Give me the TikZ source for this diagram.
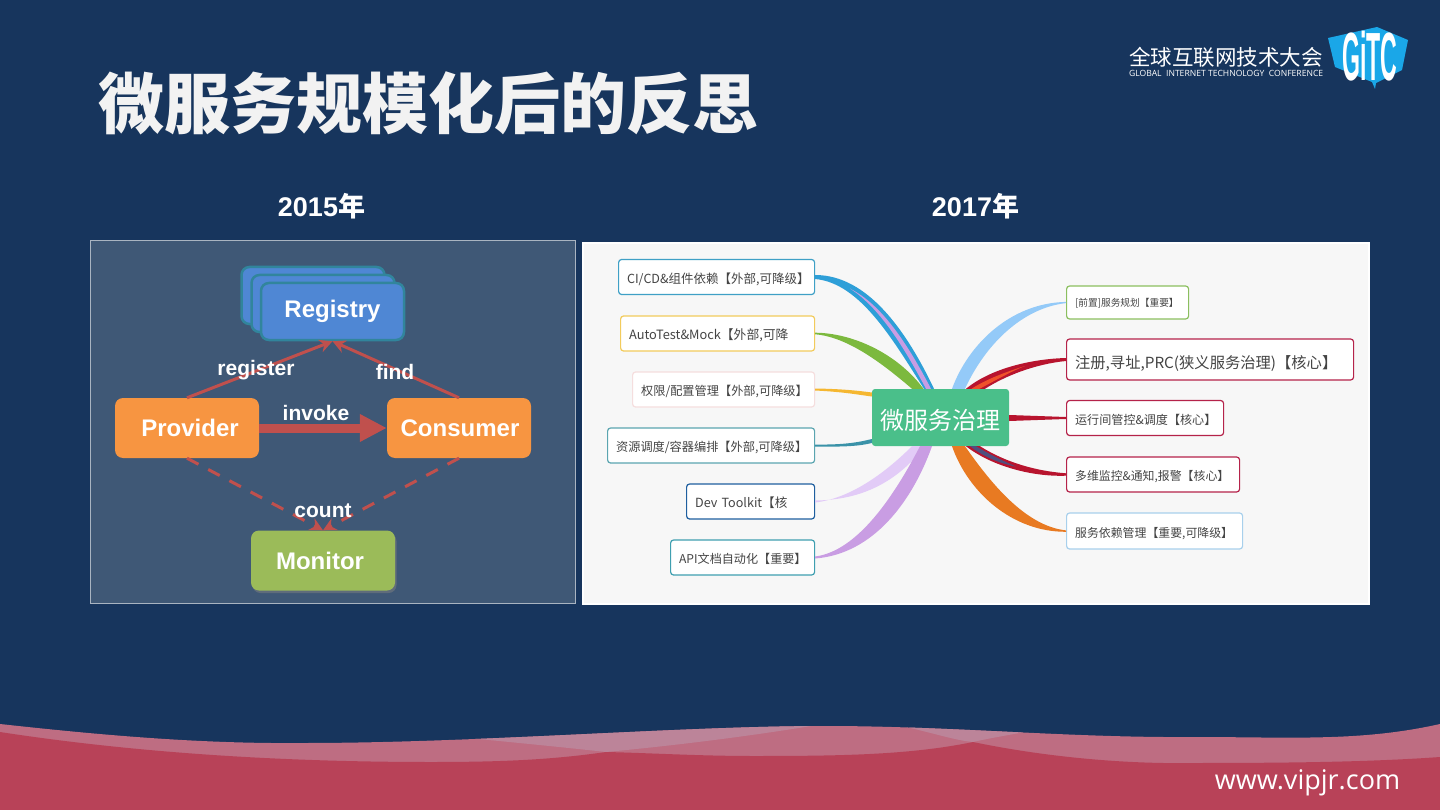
\documentclass[tikz,border=0pt]{standalone}
\usepackage{fontspec}
\usepackage{graphicx}
\usetikzlibrary{arrows.meta,calc,shadows}
\setmainfont{Liberation Sans}
\newfontfamily\cjk{Noto Sans CJK SC}
\newfontfamily\opensans{Open Sans}
\definecolor{navy}{HTML}{17355D}
\definecolor{wavemid}{HTML}{BE6D82}
\definecolor{wavelight}{HTML}{BC8499}
\definecolor{wavered}{HTML}{B84258}
\definecolor{panelL}{HTML}{3F5876}
\definecolor{panelR}{HTML}{F7F7F7}
\definecolor{arrowred}{HTML}{C0504D}
\definecolor{regfill}{HTML}{4F87D4}
\definecolor{regline}{HTML}{31859C}
\definecolor{orangebox}{HTML}{F79541}
\definecolor{greenbox}{HTML}{9BBB59}
\definecolor{mmtxt}{HTML}{444444}
\definecolor{crimson}{HTML}{B8142E}
\definecolor{mmgreen}{HTML}{4ABF8A}
\definecolor{logoblue}{HTML}{1AA7E8}
\definecolor{bdA}{HTML}{3FA0C6}
\definecolor{bdB}{HTML}{F2CB5C}
\definecolor{bdC}{HTML}{F5DEDE}
\definecolor{bdD}{HTML}{5BA5B0}
\definecolor{bdE}{HTML}{1F5F9F}
\definecolor{bdF}{HTML}{3F9FB0}
\definecolor{bdG}{HTML}{8BBF5F}
\definecolor{bdH}{HTML}{B5234A}
\definecolor{bdI}{HTML}{A8D0EC}
\definecolor{cvBlue}{HTML}{2E9FD8}
\definecolor{cvPurple}{HTML}{C99DE3}
\definecolor{cvGreen}{HTML}{7CB93E}
\definecolor{cvYellow}{HTML}{F5B731}
\definecolor{cvTeal}{HTML}{3A92A8}
\definecolor{cvLav}{HTML}{E2CBF7}
\definecolor{cvSky}{HTML}{94CAF8}
\definecolor{cvOrange}{HTML}{E87A22}
\definecolor{cvRedOr}{HTML}{F0502A}
\definecolor{cvDusk}{HTML}{4F4F7F}
\tikzset{
  x=1pt,y=-1pt,
  regbox/.style={draw=regline,line width=2.5pt,fill=regfill,rounded corners=8pt,minimum width=143pt,minimum height=57pt,text=white,inner sep=0pt},
  dubbo/.style={fill=orangebox,rounded corners=8pt,minimum width=144pt,minimum height=60pt,text=white,inner sep=0pt,font=\fontsize{24}{24}\selectfont\bfseries},
  monbox/.style={dubbo,fill=greenbox,drop shadow={shadow xshift=1.5pt,shadow yshift=-2.5pt,opacity=.5}},
  edgelabel/.style={text=white,inner sep=0pt,font=\fontsize{21}{21}\selectfont\bfseries},
  thinarrow/.style={draw=arrowred,line width=3pt,-{Stealth[length=13pt,width=13pt]}},
  dasharrow/.style={thinarrow,dash pattern=on 13pt off 11pt},
  mm/.style={rectangle,draw,line width=1.2pt,fill=white,rounded corners=3pt,anchor=west,inner xsep=8.5pt,inner ysep=0pt,minimum height=35pt,align=left,text=mmtxt,text height=14.5pt,text depth=2pt},
  heading/.style={text=white,inner sep=0pt,font=\fontsize{27}{27}\selectfont\bfseries}
}
\newcommand{\mmfont}[1]{\cjk\fontsize{#1}{14}\selectfont}
\begin{document}
\begin{tikzpicture}
\useasboundingbox (0,0) rectangle (1440,810);
\fill[navy] (0,0) rectangle (1440,810);
% waves
\begin{scope}
\path[clip] (0,724) .. controls (100,735) and (200,744) .. (303,743) .. controls (480,743) and (680,726) .. (826,726) .. controls (950,726) and (1070,738) .. (1194,737) .. controls (1290,737) and (1360,742) .. (1440,724) -- (1440,810) -- (0,810) -- cycle;
\fill[wavemid] (0,700) rectangle (1440,810);
\fill[wavelight] (468,738) .. controls (520,743) and (570,748) .. (606,752) .. controls (680,745) and (760,735) .. (835,722) -- cycle;
\fill[wavelight] (870,720) .. controls (920,728) and (950,740) .. (973,742) .. controls (990,738) and (1010,735) .. (1035,730) -- cycle;
\end{scope}
\fill[wavered] (0,732) .. controls (150,755) and (300,762) .. (431,762) .. controls (500,762) and (550,760) .. (606,752) .. controls (650,753) and (700,756) .. (753,756) .. controls (840,756) and (910,755) .. (973,742) .. controls (1050,758) and (1130,764) .. (1190,763) .. controls (1290,763) and (1370,762) .. (1440,757) -- (1440,810) -- (0,810) -- cycle;
\node[text=white,inner sep=0pt,font=\opensans\fontsize{27}{27}\selectfont] (site) at (1307.5,783) {www.vipjr.com};
% title
\node[text=white!95!black,inner sep=0pt,anchor=west,font=\cjk\bfseries\fontsize{66}{66}\selectfont] (title) at (98,103) {微服务规模化后的反思};
% logo
\node[text=white,inner sep=0pt,anchor=west,font=\cjk\fontsize{21.5}{22}\selectfont] (logocn) at (1129,57) {全球互联网技术大会};
\node[text=white,inner sep=0pt,anchor=west,font=\opensans\fontsize{8}{8}\selectfont] (logoen) at (1129,73.5) {\resizebox{194pt}{!}{GLOBAL\ \ INTERNET TECHNOLOGY\ \ CONFERENCE}};
\fill[logoblue] (1328,38) -- (1377,27) -- (1408,40) -- (1402,70) -- (1376,83) -- (1375,89) -- (1372,82) -- (1335,67) -- cycle;
\node[text=white,inner sep=0pt,font=\bfseries] (logobadge) at (1370,56) {\scalebox{1.05}[3.1]{\fontsize{22}{22}\selectfont GiTC}};
% headings
\node[heading] (y2015) at (321.5,206) {2015{\cjk\bfseries 年}};
\node[heading] (y2017) at (975.5,206) {2017{\cjk\bfseries 年}};
% panels
\draw[fill=panelL,draw=white!55!panelL,line width=1pt] (90.5,241) rectangle (575.5,603.5);
\draw[fill=panelR,draw=white,line width=1.5pt] (583,243) rectangle (1369,604);
% left diagram
\node[regbox] (regc) at (313,295.5) {};
\node[regbox] (regb) at (323,303.5) {};
\node[regbox,font=\fontsize{24}{24}\selectfont\bfseries] (reg) at (332.5,311.5) {Registry};
\node[dubbo] (prov) at (187,428) {\hspace*{6pt}Provider};
\node[dubbo] (cons) at (459,428) {\hspace*{2pt}Consumer};
\node[monbox] (mon) at (323,560.5) {Monitor\hspace*{6pt}};
\draw[thinarrow] (prov.north) -- (reg.south);
\draw[thinarrow] (cons.north) -- (reg.south);
\draw[arrowred,line width=9pt,-{Triangle[length=27pt,width=26pt]}] (prov.east) -- (cons.west);
\draw[dasharrow] (prov.south) -- (mon.north);
\draw[dasharrow] (cons.south) -- (mon.north);
\node[edgelabel] (lreg) at (256,370.5) {register};
\node[edgelabel] (lfind) at (395,372) {find};
\node[edgelabel] (linv) at (316,412.5) {invoke};
\node[edgelabel] (lcount) at (323,511) {count};
% mind map nodes
\node[rectangle,fill=mmgreen,rounded corners=3pt,minimum width=137pt,minimum height=57pt,inner sep=0pt,text=white,text height=27pt,text depth=3pt,font=\cjk\fontsize{24}{24}\selectfont] (c) at (940.5,417.5) {微服务治理};
\node[mm,draw=bdA,text width=179pt,font=\mmfont{12.5}] (l1) at (618,277) {CI/CD\&组件依赖【外部,可降级】};
\node[mm,draw=bdB,text width=177pt,font=\mmfont{12.8}] (l2) at (620,333.5) {AutoTest\&Mock【外部,可降};
\node[mm,draw=bdC,text width=165pt,font=\mmfont{12.2}] (l3) at (632,389.5) {权限/配置管理【外部,可降级】};
\node[mm,draw=bdD,text width=190pt,font=\mmfont{12.2}] (l4) at (607,445.5) {资源调度/容器编排【外部,可降级】};
\node[mm,draw=bdE,text width=111pt,font=\mmfont{12.6}] (l5) at (686,501.5) {Dev Toolkit【核};
\node[mm,draw=bdF,text width=127pt,font=\mmfont{12.1}] (l6) at (670,557.5) {API文档自动化【重要】};
\node[mm,draw=bdG,text width=105pt,minimum height=33pt,text height=10.5pt,text depth=1.5pt,font=\mmfont{9.7}] (r1) at (1066,302.5) {[前置]服务规划【重要】};
\node[mm,draw=bdH,text width=270pt,minimum height=41pt,text height=19.6pt,font=\mmfont{15.3}] (r2) at (1066,359.5) {注册,寻址,PRC(狭义服务治理)【核心】};
\node[mm,draw=bdH,text width=140pt,font=\mmfont{12.1}] (r3) at (1066,418) {运行间管控\&调度【核心】};
\node[mm,draw=bdH,text width=156pt,font=\mmfont{11.9}] (r4) at (1066,474.5) {多维监控\&通知,报警【核心】};
\node[mm,draw=bdI,text width=159pt,minimum height=36pt,font=\mmfont{11.9}] (r5) at (1066,531) {服务依赖管理【重要,可降级】};
% tapered connectors: left side
\fill[cvBlue] ($(l1.east)+(0,-2)$) .. controls (868,275) and (907,332) .. ($(c.north)+(-6.5,0)$) -- ($(c.north)+(-16.5,0)$) .. controls (893,340) and (860,283) .. ($(l1.east)+(0,2)$) -- cycle;
\fill[cvPurple] (850,288.6) .. controls (883.5,305.5) and (909.3,347.2) .. ($(c.north)+(-9.5,0)$) -- ($(c.north)+(-14.5,0)$) .. controls (905.3,349.8) and (880.7,308.3) .. (850,288.6) -- cycle;
\fill[cvGreen] ($(l2.east)+(0,-.8)$) .. controls (852,333) and (897,353) .. ($(c.north)+(-17,0)$) -- ($(c.north)+(-28.5,0)$) .. controls (883,364) and (848,337) .. ($(l2.east)+(0,.8)$) -- cycle;
\fill[cvYellow] ($(l3.east)+(0,-1)$) .. controls (845,389) and (860,391) .. ($(c.west)+(0,-25)$) -- ($(c.west)+(0,-21)$) .. controls (860,395) and (845,392) .. ($(l3.east)+(0,1)$) -- cycle;
\fill[cvTeal] ($(l4.east)+(0,-1)$) .. controls (845,445) and (860,442) .. ($(c.west)+(0,21.5)$) -- ($(c.west)+(0,25.5)$) .. controls (860,446) and (845,447) .. ($(l4.east)+(0,1)$) -- cycle;
\fill[cvLav] ($(l5.east)+(0,-1)$) .. controls (862,500) and (897,482) .. ($(c.south)+(-15.5,0)$) -- ($(c.south)+(-28.5,0)$) .. controls (888,470) and (853,498) .. ($(l5.east)+(0,1)$) -- cycle;
\fill[cvPurple] ($(l6.east)+(0,1)$) .. controls (873,554) and (912,502) .. ($(c.south)+(-8.5,0)$) -- ($(c.south)+(-20.5,0)$) .. controls (893,498) and (857,551) .. ($(l6.east)+(0,-1)$) -- cycle;
% tapered connectors: right side
\fill[cvSky] ($(r1.west)+(0,-.6)$) .. controls (1010,303) and (968,345) .. ($(c.north)+(11.5,0)$) -- ($(c.north)+(24.5,0)$) .. controls (985,345) and (1022,308) .. ($(r1.west)+(0,.6)$) -- cycle;
\fill[crimson] ($(r2.west)+(0,-1.5)$) .. controls (1030,359) and (990,369) .. ($(c.north)+(25.5,0)$) -- ($(c.north)+(44.5,0)$) .. controls (1005,376) and (1035,364) .. ($(r2.west)+(0,1.5)$) -- cycle;
\fill[cvRedOr] (1025,366) .. controls (1005,372) and (985,380) .. ($(c.north)+(31,0)$) -- ($(c.north)+(39,0)$) .. controls (1000,378) and (1012,371) .. (1025,366) -- cycle;
\fill[crimson] ($(c.east)+(0,-2.5)$) -- ($(r3.west)+(0,-1)$) -- ($(r3.west)+(0,1)$) -- ($(c.east)+(0,3.5)$) -- cycle;
\fill[crimson] ($(r4.west)+(0,-1.2)$) .. controls (1035,471) and (1005,462) .. ($(c.south)+(39.5,0)$) -- ($(c.south)+(25.5,0)$) .. controls (990,465) and (1030,477) .. ($(r4.west)+(0,1.2)$) -- cycle;
\fill[cvDusk] (1016,466.6) .. controls (1002,460.5) and (988,453.5) .. ($(c.south)+(35.5,0)$) -- ($(c.south)+(29.5,0)$) .. controls (982.5,456) and (998,463) .. (1016,466.6) -- cycle;
\fill[cvOrange] ($(r5.west)+(0,-.6)$) .. controls (1025,526) and (990,482) .. ($(c.south)+(24.5,0)$) -- ($(c.south)+(11.5,0)$) .. controls (968,492) and (1012,532) .. ($(r5.west)+(0,.8)$) -- cycle;
\end{tikzpicture}
\end{document}
